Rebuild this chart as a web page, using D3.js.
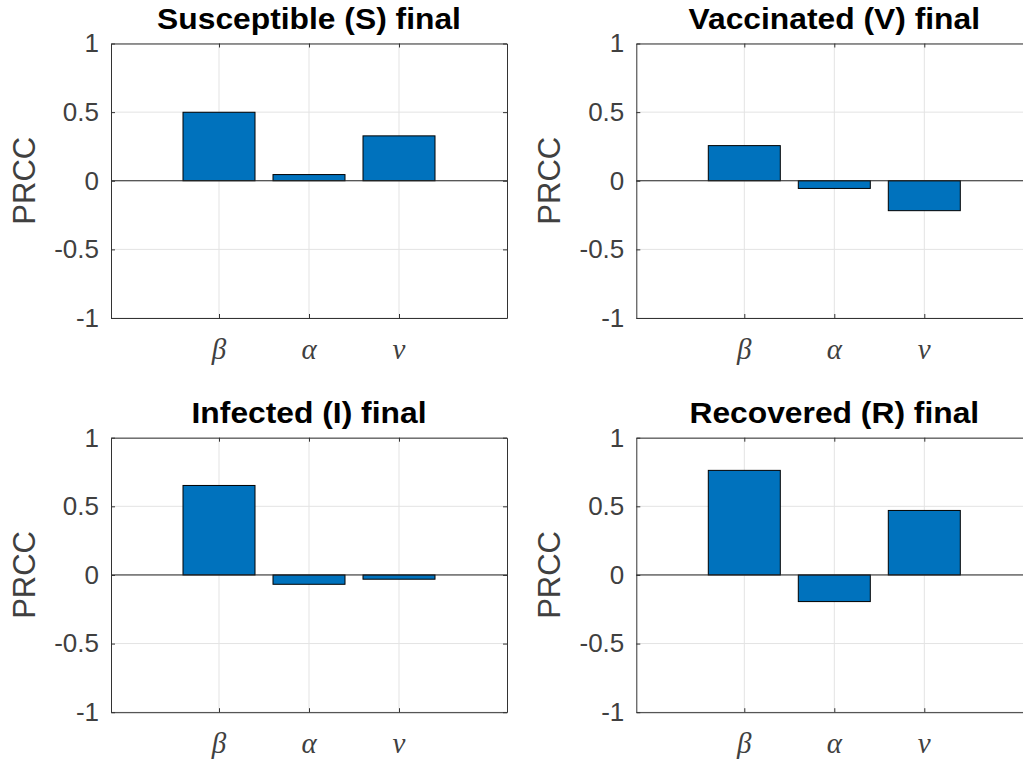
<!DOCTYPE html>
<html>
<head>
<meta charset="utf-8">
<script src="https://cdn.jsdelivr.net/npm/d3@7"></script>
<style>
  html, body { margin: 0; padding: 0; background: #fff; }
  svg { display: block; }
</style>
</head>
<body>
<svg id="chart" width="1023" height="767"></svg>
<script>
// ---- data ----
const categories = ["β", "α", "ν"];
const titles = ["Susceptible (S) final", "Vaccinated (V) final", "Infected (I) final", "Recovered (R) final"];
const susceptibleValues = [0.499, 0.045, 0.327];
const vaccinatedValues = [0.256, -0.056, -0.218];
const infectedValues = [0.652, -0.068, -0.031];
const recoveredValues = [0.762, -0.194, 0.470];
const yTickValues = [-1, -0.5, 0, 0.5, 1];
const yTickLabels = ["-1", "-0.5", "0", "0.5", "1"];
const yLabel = "PRCC";

const seriesList = [susceptibleValues, vaccinatedValues, infectedValues, recoveredValues];

// ---- layout ----
const svg = d3.select("#chart");
const panelW = 396, panelH = 274.5;
const origins = [[111, 43.5], [636.3, 43.5], [111, 437.7], [636.3, 437.7]];
const barColor = "#0072BD";
const axisColor = "#333333";
const gridColor = "#e3e3e3";
const labelColor = "#404040";
const sansFont = "'Liberation Sans', Arial, Helvetica, sans-serif";

seriesList.forEach((values, i) => {
  const [ox, oy] = origins[i];
  const g = svg.append("g").attr("transform", `translate(${ox},${oy})`);

  const idx = categories.map((c, k) => k + 1);
  const x = d3.scaleLinear().domain([1 - 1.2, categories.length + 1.2]).range([0, panelW]);
  const y = d3.scaleLinear().domain([-1, 1]).range([panelH, 0]);

  // grid
  g.append("g").selectAll("line").data(idx).join("line")
    .attr("x1", d => x(d)).attr("x2", d => x(d))
    .attr("y1", 0).attr("y2", panelH)
    .attr("stroke", gridColor).attr("stroke-width", 1);
  g.append("g").selectAll("line").data(yTickValues).join("line")
    .attr("x1", 0).attr("x2", panelW)
    .attr("y1", d => y(d)).attr("y2", d => y(d))
    .attr("stroke", gridColor).attr("stroke-width", 1);

  // bars
  const bw = x(1.8) - x(1);
  g.append("g").selectAll("rect").data(values).join("rect")
    .attr("x", (d, k) => x(k + 1) - bw / 2)
    .attr("width", bw)
    .attr("y", d => y(Math.max(0, d)))
    .attr("height", d => Math.abs(y(d) - y(0)))
    .attr("fill", barColor)
    .attr("stroke", "#000")
    .attr("stroke-width", 1);

  // zero baseline
  g.append("line")
    .attr("x1", 0).attr("x2", panelW)
    .attr("y1", y(0)).attr("y2", y(0))
    .attr("stroke", "#262626").attr("stroke-width", 1);

  // axes with inward ticks
  const tl = 4;
  const left = g.append("g").call(d3.axisLeft(y).tickValues(yTickValues).tickSizeInner(-tl).tickSizeOuter(0)
    .tickPadding(12).tickFormat((d, k) => yTickLabels[k]));
  const right = g.append("g").attr("transform", `translate(${panelW},0)`)
    .call(d3.axisRight(y).tickValues(yTickValues).tickSizeInner(-tl).tickSizeOuter(0).tickFormat(""));
  const bottom = g.append("g").attr("transform", `translate(0,${panelH})`)
    .call(d3.axisBottom(x).tickValues(idx).tickSizeInner(-tl).tickSizeOuter(0).tickFormat(""));
  const top = g.append("g")
    .call(d3.axisTop(x).tickValues(idx).tickSizeInner(-tl).tickSizeOuter(0).tickFormat(""));
  [left, right, bottom, top].forEach(a => {
    a.select(".domain").attr("stroke", axisColor).attr("stroke-width", 1);
    a.selectAll(".tick line").attr("stroke", axisColor);
  });
  left.selectAll(".tick text")
    .attr("font-family", sansFont)
    .attr("font-size", 26)
    .attr("fill", labelColor);

  // x category labels (italic math style)
  g.append("g").selectAll("text").data(categories).join("text")
    .attr("x", (d, k) => x(k + 1))
    .attr("y", panelH + 41)
    .attr("text-anchor", "middle")
    .attr("font-family", "'Liberation Serif', 'Times New Roman', serif")
    .attr("font-style", "italic")
    .attr("font-size", 29)
    .attr("fill", labelColor)
    .text(d => d);

  // y label
  g.append("text")
    .attr("transform", `translate(${-76},${panelH / 2}) rotate(-90)`)
    .attr("text-anchor", "middle")
    .attr("font-family", sansFont)
    .attr("font-size", 31)
    .attr("fill", labelColor)
    .text(yLabel);

  // title
  g.append("text")
    .attr("transform", `translate(${panelW / 2},${-14.5}) scale(1.06,1)`)
    .attr("text-anchor", "middle")
    .attr("font-family", sansFont)
    .attr("font-weight", "bold")
    .attr("font-size", 30)
    .attr("fill", "#000")
    .text(titles[i]);
});
</script>
</body>
</html>
